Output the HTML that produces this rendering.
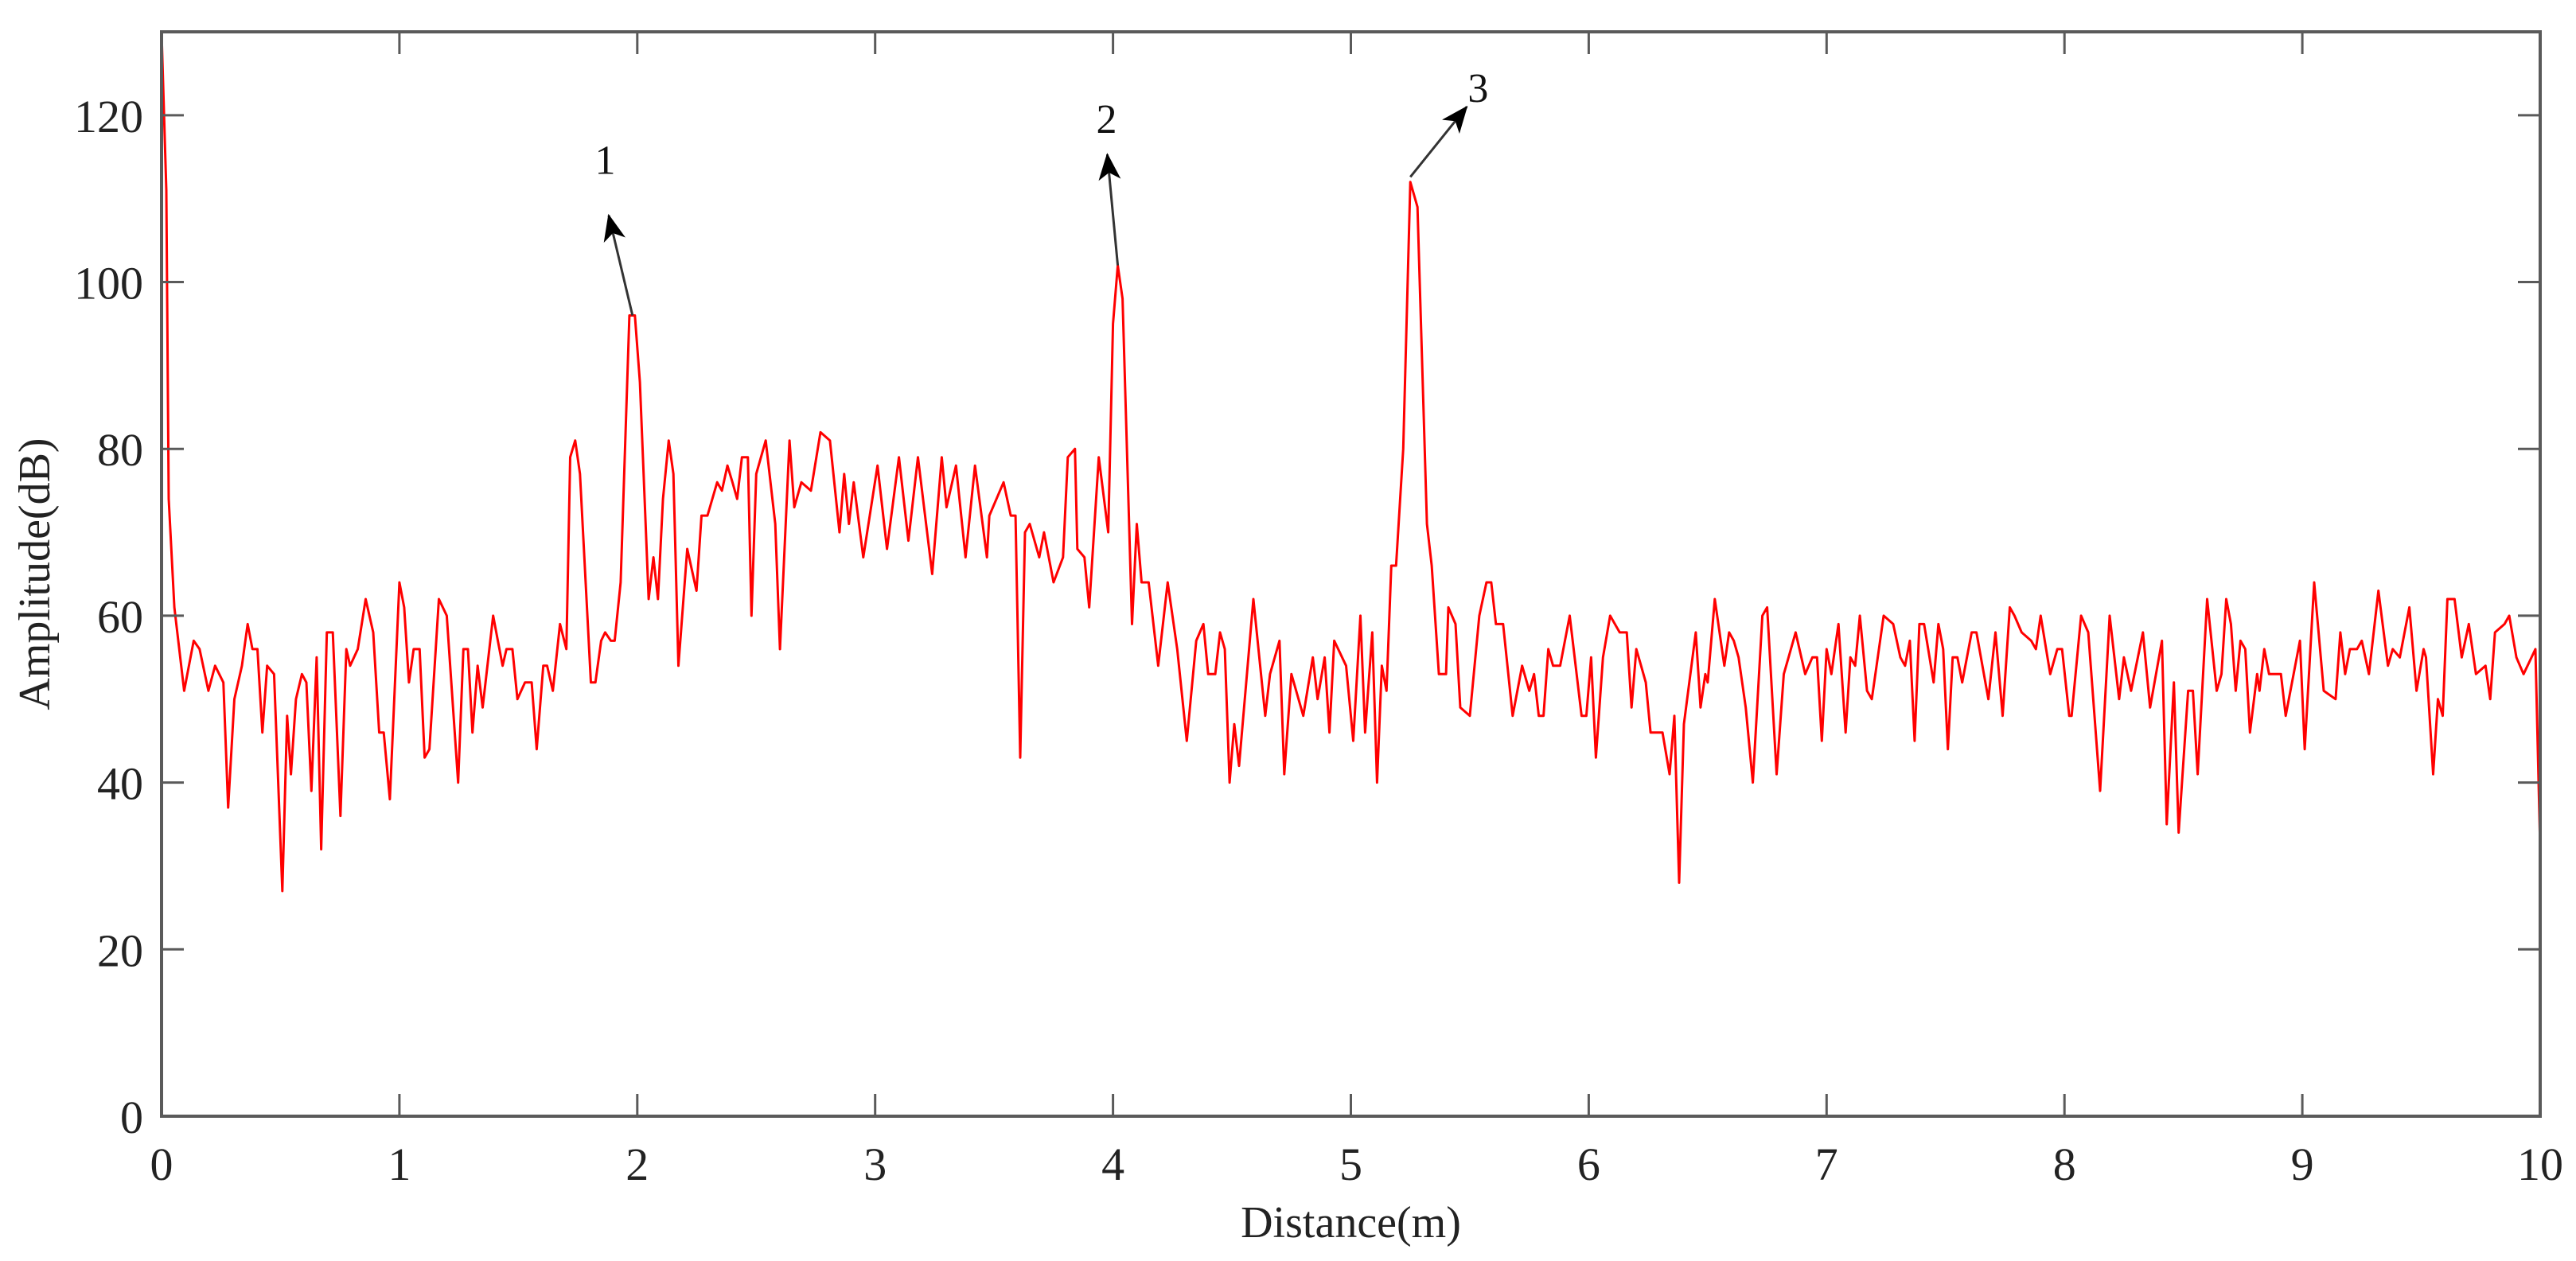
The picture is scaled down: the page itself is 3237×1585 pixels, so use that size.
<!DOCTYPE html>
<html><head><meta charset="utf-8"><style>
html,body{margin:0;padding:0;background:#fff;}
svg{display:block;font-family:"Liberation Serif",serif;}
</style></head><body>
<svg id="chart" width="3237" height="1585" viewBox="0 0 3237 1585" xmlns="http://www.w3.org/2000/svg">
<defs><marker id="ah" markerWidth="34" markerHeight="28" refX="32" refY="14" orient="auto" markerUnits="userSpaceOnUse" viewBox="0 0 34 28"><path d="M0,0 L34,14 L0,28 L9,14 Z" fill="#000"/></marker></defs>
<g id="plot"></g>
</svg>
<script>
const xTicks=[0,1,2,3,4,5,6,7,8,9,10];
const yTicks=[0,20,40,60,80,100,120];
const distX=[0,0.02,0.03,0.054,0.095,0.135,0.16,0.197,0.225,0.26,0.28,0.306,0.338,0.362,0.382,0.403,0.424,0.444,0.473,0.508,0.528,0.544,0.565,0.59,0.609,0.63,0.652,0.671,0.695,0.72,0.752,0.777,0.793,0.825,0.858,0.89,0.915,0.934,0.96,1.0,1.02,1.04,1.06,1.085,1.106,1.126,1.166,1.199,1.247,1.269,1.288,1.307,1.329,1.35,1.394,1.414,1.434,1.45,1.475,1.496,1.528,1.556,1.577,1.605,1.621,1.645,1.675,1.702,1.718,1.739,1.759,1.805,1.824,1.848,1.865,1.889,1.905,1.93,1.967,1.99,2.011,2.048,2.068,2.087,2.108,2.132,2.152,2.173,2.21,2.249,2.27,2.295,2.336,2.356,2.379,2.40,2.42,2.44,2.465,2.48,2.50,2.54,2.58,2.60,2.64,2.66,2.69,2.73,2.77,2.81,2.85,2.87,2.89,2.91,2.95,3.01,3.05,3.10,3.14,3.18,3.24,3.28,3.30,3.34,3.38,3.42,3.47,3.48,3.54,3.57,3.59,3.61,3.63,3.65,3.69,3.71,3.75,3.79,3.81,3.84,3.85,3.88,3.90,3.94,3.98,4.00,4.02,4.04,4.08,4.10,4.12,4.15,4.19,4.23,4.27,4.31,4.35,4.38,4.40,4.43,4.45,4.47,4.49,4.51,4.53,4.59,4.64,4.66,4.70,4.72,4.75,4.80,4.84,4.86,4.89,4.91,4.93,4.98,5.01,5.04,5.06,5.09,5.11,5.13,5.15,5.17,5.19,5.22,5.25,5.28,5.32,5.34,5.37,5.40,5.41,5.44,5.46,5.50,5.54,5.57,5.59,5.61,5.64,5.68,5.72,5.75,5.77,5.79,5.81,5.83,5.85,5.88,5.92,5.97,5.99,6.01,6.03,6.06,6.09,6.13,6.16,6.18,6.20,6.22,6.24,6.26,6.31,6.34,6.36,6.38,6.40,6.45,6.47,6.49,6.50,6.53,6.57,6.59,6.61,6.63,6.66,6.69,6.73,6.75,6.79,6.82,6.84,6.87,6.91,6.94,6.96,6.98,7.0,7.02,7.05,7.08,7.10,7.12,7.14,7.17,7.19,7.21,7.24,7.28,7.31,7.33,7.35,7.37,7.39,7.41,7.45,7.47,7.49,7.51,7.53,7.55,7.57,7.61,7.63,7.68,7.71,7.74,7.77,7.79,7.82,7.86,7.88,7.90,7.94,7.97,7.99,8.02,8.03,8.07,8.10,8.15,8.19,8.23,8.25,8.28,8.33,8.36,8.41,8.43,8.46,8.48,8.52,8.54,8.56,8.60,8.64,8.66,8.68,8.70,8.72,8.74,8.76,8.78,8.81,8.82,8.84,8.86,8.91,8.93,8.99,9.01,9.05,9.09,9.14,9.16,9.18,9.20,9.23,9.25,9.28,9.32,9.36,9.38,9.41,9.45,9.48,9.51,9.52,9.55,9.57,9.59,9.61,9.64,9.67,9.70,9.73,9.77,9.79,9.81,9.85,9.87,9.90,9.93,9.98,10.0];
const ampY=[130,111,74,61,51,57,56,51,54,52,37,50,54,59,56,56,46,54,53,27,48,41,50,53,52,39,55,32,58,58,36,56,54,56,62,58,46,46,38,64,61,52,56,56,43,44,62,60,40,56,56,46,54,49,60,57,54,56,56,50,52,52,44,54,54,51,59,56,79,81,77,52,52,57,58,57,57,64,96,96,88,62,67,62,74,81,77,54,68,63,72,72,76,75,78,76,74,79,79,60,77,81,71,56,81,73,76,75,82,81,70,77,71,76,67,78,68,79,69,79,65,79,73,78,67,78,67,72,76,72,72,43,70,71,67,70,64,67,79,80,68,67,61,79,70,95,102,98,59,71,64,64,54,64,56,45,57,59,53,53,58,56,40,47,42,62,48,53,57,41,53,48,55,50,55,46,57,54,45,60,46,58,40,54,51,66,66,80,112,109,71,66,53,53,61,59,49,48,60,64,64,59,59,48,54,51,53,48,48,56,54,54,60,48,48,55,43,55,60,58,58,49,56,54,52,46,46,41,48,28,47,58,49,53,52,62,54,58,57,55,49,40,60,61,41,53,55,58,53,55,55,45,56,53,59,46,55,54,60,51,50,54,60,59,55,54,57,45,59,59,52,59,56,44,55,55,52,58,58,50,58,48,61,60,58,57,56,60,53,56,56,48,48,60,58,39,60,50,55,51,58,49,57,35,52,34,51,51,41,62,51,53,62,59,51,57,56,46,53,51,56,53,53,48,57,44,64,51,50,58,53,56,56,57,53,63,54,56,55,61,51,56,55,41,50,48,62,62,55,59,53,54,50,58,59,60,55,53,56,32];
const annoLabels=["1","2","3"];
const annoFromX=[1.98,4.02,5.25], annoFromY=[96,102,112.6];
const annoToX=[1.88,3.976,5.487], annoToY=[108,115.3,121];
const annoTextX=[1.865,3.973,5.535], annoTextY=[114.7,119.6,123.3];

const L=203,R=3192,T=40,B=1403;
const xS=v=>L+(v/10)*(R-L);
const yS=v=>B-(v/130)*(B-T);
const NS="http://www.w3.org/2000/svg";
const g=document.getElementById('plot');
function mk(tag,attrs,parent){const e=document.createElementNS(NS,tag);for(const k in attrs)e.setAttribute(k,attrs[k]);(parent||g).appendChild(e);return e;}

let d=distX.map((x,i)=>(i?'L':'M')+xS(x).toFixed(1)+','+yS(ampY[i]).toFixed(1)).join(' ');
const line=mk('path',{d:d,fill:'none',stroke:'#ff0000','stroke-width':3,'stroke-linejoin':'round'});



const box=mk('rect',{x:L,y:T,width:R-L,height:B-T,fill:'none',stroke:'#5a5a5a','stroke-width':4});



xTicks.forEach(t=>{
  const x=xS(t);
  mk('line',{x1:x,y1:B,x2:x,y2:B-28,stroke:'#5a5a5a','stroke-width':3});
  mk('line',{x1:x,y1:T,x2:x,y2:T+28,stroke:'#5a5a5a','stroke-width':3});
  const tx=mk('text',{x:x,y:1483,'text-anchor':'middle','font-size':58,fill:'#222'});
  tx.textContent=t;
  
  
});
yTicks.forEach(t=>{
  const y=yS(t);
  mk('line',{x1:L,y1:y,x2:L+28,y2:y,stroke:'#5a5a5a','stroke-width':3});
  mk('line',{x1:R,y1:y,x2:R-28,y2:y,stroke:'#5a5a5a','stroke-width':3});
  const tx=mk('text',{x:180,y:y+21,'text-anchor':'end','font-size':58,fill:'#222'});
  tx.textContent=t;
  
  
});
const xt=mk('text',{x:(L+R)/2,y:1555,'text-anchor':'middle','font-size':56,fill:'#222'});
xt.textContent='Distance(m)';


const yt=mk('text',{x:0,y:0,'text-anchor':'middle','font-size':56,fill:'#222',transform:'translate(62,'+((T+B)/2)+') rotate(-90)'});
yt.textContent='Amplitude(dB)';



annoLabels.forEach((lab,i)=>{
  const a=mk('line',{x1:xS(annoFromX[i]),y1:yS(annoFromY[i]),x2:xS(annoToX[i]),y2:yS(annoToY[i]),stroke:'#333','stroke-width':3,'marker-end':'url(#ah)'});
  
  
  const tx=mk('text',{x:xS(annoTextX[i]),y:yS(annoTextY[i])+18,'text-anchor':'middle','font-size':52,fill:'#111'});
  tx.textContent=lab;
  
  
});
</script>
</body></html>
